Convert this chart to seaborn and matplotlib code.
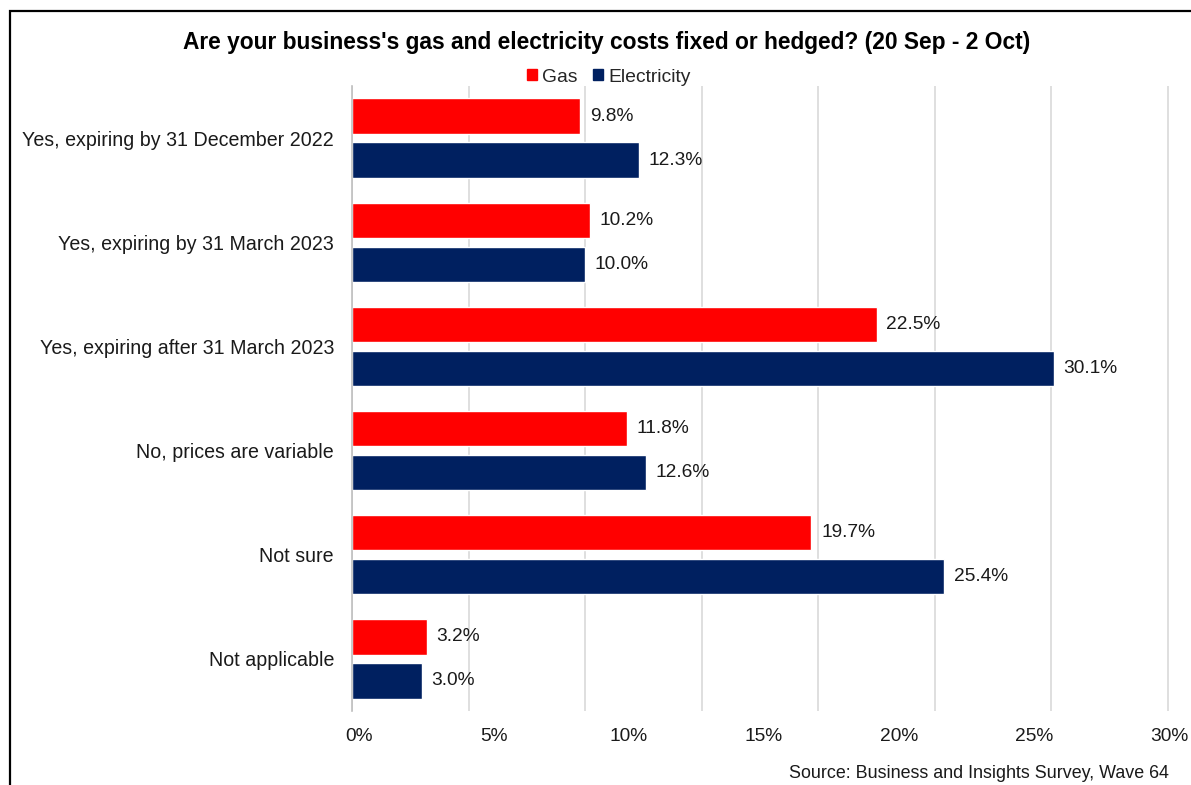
import matplotlib
matplotlib.use("Agg")
import matplotlib.pyplot as plt
import matplotlib.patches as mpatches
import matplotlib.ticker as mticker
import seaborn as sns
import pandas as pd

categories = [
    "Yes, expiring by 31 December 2022",
    "Yes, expiring by 31 March 2023",
    "Yes, expiring after 31 March 2023",
    "No, prices are variable",
    "Not sure",
    "Not applicable",
]
gas = [9.8, 10.2, 22.5, 11.8, 19.7, 3.2]
electricity = [12.3, 10.0, 30.1, 12.6, 25.4, 3.0]
series = ["Gas", "Electricity"]
axis_ticks = [0, 5, 10, 15, 20, 25, 30]

title = "Are your business's gas and electricity costs fixed or hedged? (20 Sep - 2 Oct)"
source = "Source: Business and Insights Survey, Wave 64"

df = pd.DataFrame({
    "category": categories * 2,
    "series": [series[0]] * len(categories) + [series[1]] * len(categories),
    "value": gas + electricity,
})

sns.set_theme(style="white")
plt.rcParams["font.family"] = ["Liberation Sans", "DejaVu Sans"]

W, H = 1191, 785
px_per_unit = (1168 - 352) / 35.0
x_max = 35.2
fig = plt.figure(figsize=(W / 100, H / 100), dpi=100)
ax = fig.add_axes([352 / W, 1 - 711 / H, x_max * px_per_unit / W, (711 - 86) / H])

palette = {"Gas": "#FF0000", "Electricity": "#002060"}
sns.barplot(data=df, y="category", x="value", hue="series", order=categories,
            hue_order=series, palette=palette, orient="h", width=0.846, gap=0.2,
            ax=ax, legend=False, saturation=1)

for container in ax.containers:
    ax.bar_label(container, labels=[f"{v:.1f}%" for v in container.datavalues],
                 padding=7, fontsize=13.8, color="#1a1a1a")

ax.set_xlim(0, x_max)
ax.set_ylim(len(categories) - 0.5, -0.5)
ax.xaxis.set_major_locator(mticker.MultipleLocator(5))
ax.grid(axis="x", color="#d9d9d9", linewidth=1.2)
ax.tick_params(axis="x", labelbottom=False, length=0)
ax.tick_params(axis="y", length=0, pad=13, labelsize=14.1, labelcolor="#1a1a1a")
ax.set_xlabel("")
ax.set_ylabel("")
for side in ["top", "right", "bottom"]:
    ax.spines[side].set_visible(False)
ax.spines["left"].set_color("#bfbfbf")
ax.spines["left"].set_linewidth(1.2)

# percentage labels along the bottom of the plot (label scale spans 0-30%)
k = px_per_unit / 27.0
off = 7.0 / 27.0
sec = ax.secondary_xaxis("bottom", functions=(lambda x: x * k - off, lambda v: (v + off) / k))
sec.set_xticks(axis_ticks)
sec.xaxis.set_major_formatter(mticker.FuncFormatter(lambda v, p: f"{v:.0f}%"))
sec.tick_params(length=0, labelsize=13.8, labelcolor="#1a1a1a", pad=12)
sec.spines["bottom"].set_visible(False)

# legend
handles = [mpatches.Patch(color=palette[s], label=s) for s in series]
fig.legend(handles=handles, loc="center", bbox_to_anchor=(609 / W, 1 - 77 / H), ncol=2,
           frameon=False, fontsize=13.9, handlelength=0.5, handleheight=0.5,
           handletextpad=0.3, columnspacing=0.8)

fig.text(607 / W, 1 - 42 / H, title, ha="center", va="center", fontsize=16.4,
         fontweight="bold", color="black")
fig.text(1169 / W, 1 - 773 / H, source, ha="right", va="center", fontsize=12.9,
         color="#1a1a1a")

# outer frame
fig.add_artist(mpatches.Rectangle((10 / W, -0.1), 1.2, 1 - 11 / H + 0.1,
                                  transform=fig.transFigure, fill=False,
                                  edgecolor="black", linewidth=1.6))

fig.savefig("out.png", dpi=100, facecolor="white")
